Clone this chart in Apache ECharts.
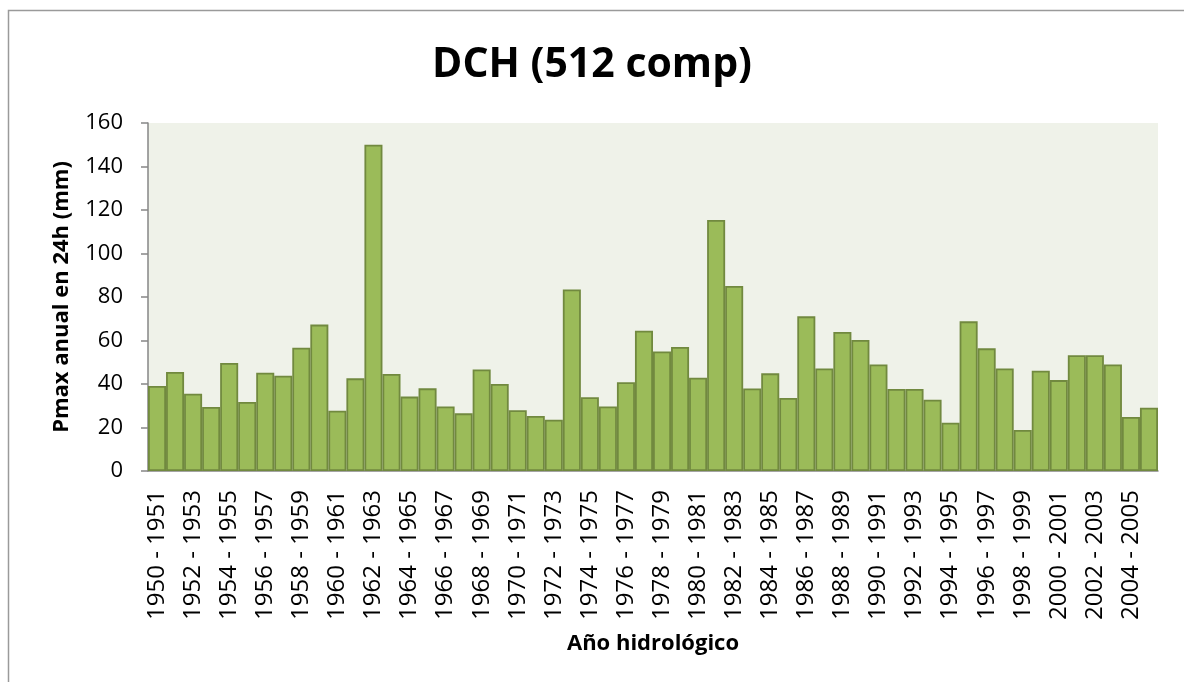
<!DOCTYPE html>
<html>
<head>
<meta charset="utf-8">
<script src="https://cdn.jsdelivr.net/npm/echarts@6/dist/echarts.min.js"></script>
<style>
html,body{margin:0;padding:0;background:#fff;}
#chart{width:1184px;height:682px;}
</style>
</head>
<body>
<div id="chart"></div>
<script>
const startYears = [];
for (let y = 1950; y <= 2005; y++) startYears.push(y);
const categories = startYears.map(y => y + ' - ' + (y + 1));

const pmaxValues = [
  39.1, 45.5, 35.5, 29.4, 49.7, 31.7, 45.2, 43.8, 56.7, 67.3,
  27.7, 42.6, 150.0, 44.6, 34.2, 38.0, 29.7, 26.5, 46.7, 40.0,
  27.9, 25.3, 23.6, 83.5, 33.9, 29.7, 40.8, 64.5, 55.0, 57.0,
  42.9, 115.4, 85.1, 37.9, 44.9, 33.6, 71.1, 47.1, 63.9, 60.2,
  49.0, 37.7, 37.7, 32.8, 22.2, 68.8, 56.4, 47.1, 18.9, 46.1,
  41.8, 53.2, 53.2, 49.0, 24.8, 29.1
];

const titleText = 'DCH (512 comp)';
const xAxisTitle = 'Año hidrológico';
const yAxisTitle = 'Pmax anual en 24h (mm)';

const chart = echarts.init(document.getElementById('chart'));
chart.setOption({
  animation: false,
  backgroundColor: '#ffffff',
  title: {
    text: titleText,
    left: 'center',
    top: 40,
    textStyle: { fontFamily: 'Open Sans', fontWeight: 'bold', fontSize: 41, color: '#000' }
  },
  graphic: [{
    type: 'rect',
    shape: { x: 8.5, y: 10.5, width: 1200, height: 700 },
    style: { fill: 'none', stroke: '#9a9a9a', lineWidth: 1.5 },
    silent: true
  }],
  grid: {
    left: 148, right: 26, top: 123, bottom: 211,
    show: true, backgroundColor: '#EFF2E9', borderWidth: 0
  },
  xAxis: {
    type: 'category',
    data: categories,
    name: xAxisTitle,
    nameLocation: 'middle',
    nameGap: 162,
    nameTextStyle: { fontFamily: 'Open Sans', fontWeight: 'bold', fontSize: 22, color: '#000' },
    axisLine: { show: true, lineStyle: { color: '#868686', width: 1.5 } },
    axisTick: { show: false },
    axisLabel: {
      interval: 1, rotate: 90, margin: 19,
      fontFamily: 'Open Sans', fontSize: 24, color: '#000'
    }
  },
  yAxis: {
    type: 'value',
    min: 0, max: 160, interval: 20,
    name: yAxisTitle,
    nameLocation: 'middle',
    nameGap: 75,
    nameTextStyle: { fontFamily: 'Open Sans', fontWeight: 'bold', fontSize: 22, color: '#000' },
    axisLine: { show: true, lineStyle: { color: '#868686', width: 1.5 } },
    axisTick: { show: true, length: 7, lineStyle: { color: '#868686', width: 1.5 } },
    splitLine: { show: false },
    axisLabel: { margin: 25, fontFamily: 'Open Sans', fontSize: 22, color: '#000' }
  },
  series: [{
    type: 'bar',
    data: pmaxValues,
    barCategoryGap: 0,
    itemStyle: { color: '#9BBB59', borderColor: '#71893F', borderWidth: 1.8 }
  }]
});
</script>
</body>
</html>
